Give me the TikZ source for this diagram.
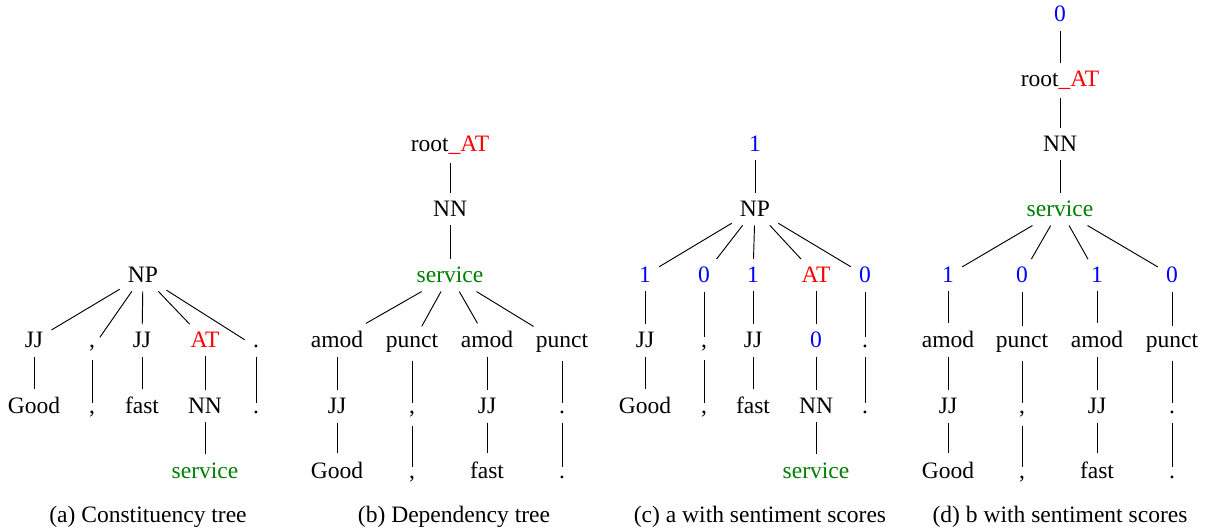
\documentclass[tikz,border=0pt]{standalone}
\usepackage{fontspec}
\setmainfont{Liberation Serif}
\definecolor{svcgreen}{rgb}{0,0.5,0}

\begin{document}
\begin{tikzpicture}[x=0.425pt,y=-0.425pt,
		every node/.style={anchor=base},
		score/.style={text=blue},
		aspect/.style={text=red},
		target/.style={text=svcgreen}]
	\useasboundingbox (0,0) rectangle (1210,528);

	% (a) constituency tree
	\node (anp) at (143,283) {NP};
	\node (ajja) at (34,348) {JJ};
	\node (acma) at (92,348) {,};
	\node (ajjb) at (142,348) {JJ};
	\node[aspect] (aat) at (205,348) {AT};
	\node (adta) at (256,348) {.};
	\node (agood) at (34,414) {Good};
	\node (acmb) at (92,414) {,};
	\node (afast) at (142,414) {fast};
	\node (ann) at (205,414) {NN};
	\node (adtb) at (256,414) {.};
	\node[target] (asvc) at (205,478) {service};
	\draw (anp) -- (ajja);
	\draw (anp) -- (acma);
	\draw (anp) -- (ajjb);
	\draw (anp) -- (aat);
	\draw (anp) -- (adta);
	\draw (ajja) -- (agood);
	\draw (acma) -- (acmb);
	\draw (ajjb) -- (afast);
	\draw (aat) -- (ann) -- (asvc);
	\draw (adta) -- (adtb);
	\node (capa) at (148,522) {(a) Constituency tree};

	% (b) dependency tree
	\node (broot) at (450,152) {root\textcolor{red}{\_AT}};
	\node (bnn) at (450,217) {NN};
	\node[target] (bsvc) at (450,283) {service};
	\node (bamoda) at (337,348) {amod};
	\node (bpnca) at (412,348) {punct};
	\node (bamodb) at (487,348) {amod};
	\node (bpncb) at (562,348) {punct};
	\node (bjja) at (337,414) {JJ};
	\node (bcma) at (412,414) {,};
	\node (bjjb) at (487,414) {JJ};
	\node (bdta) at (562,414) {.};
	\node (bgood) at (337,478) {Good};
	\node (bcmb) at (412,478) {,};
	\node (bfast) at (487,478) {fast};
	\node (bdtb) at (562,478) {.};
	\draw (broot) -- (bnn) -- (bsvc);
	\draw (bsvc) -- (bamoda);
	\draw (bsvc) -- (bpnca);
	\draw (bsvc) -- (bamodb);
	\draw (bsvc) -- (bpncb);
	\draw (bamoda) -- (bjja) -- (bgood);
	\draw (bpnca) -- (bcma) -- (bcmb);
	\draw (bamodb) -- (bjjb) -- (bfast);
	\draw (bpncb) -- (bdta) -- (bdtb);
	\node (capb) at (454,522) {(b) Dependency tree};

	% (c) constituency tree with scores
	\node[score] (cs) at (755,152) {1};
	\node (cnp) at (755,217) {NP};
	\node[score] (csa) at (645,283) {1};
	\node[score] (csb) at (704,283) {0};
	\node[score] (csc) at (753,283) {1};
	\node[aspect] (cat) at (816,283) {AT};
	\node[score] (csd) at (865,283) {0};
	\node (cjja) at (645,348) {JJ};
	\node (ccma) at (704,348) {,};
	\node (cjjb) at (753,348) {JJ};
	\node[score] (cse) at (816,348) {0};
	\node (cdta) at (865,348) {.};
	\node (cgood) at (645,414) {Good};
	\node (ccmb) at (704,414) {,};
	\node (cfast) at (753,414) {fast};
	\node (cnn) at (816,414) {NN};
	\node (cdtb) at (865,414) {.};
	\node[target] (csvc) at (816,478) {service};
	\draw (cs) -- (cnp);
	\draw (cnp) -- (csa);
	\draw (cnp) -- (csb);
	\draw (cnp) -- (csc);
	\draw (cnp) -- (cat);
	\draw (cnp) -- (csd);
	\draw (csa) -- (cjja) -- (cgood);
	\draw (csb) -- (ccma) -- (ccmb);
	\draw (csc) -- (cjjb) -- (cfast);
	\draw (cat) -- (cse) -- (cnn) -- (csvc);
	\draw (csd) -- (cdta) -- (cdtb);
	\node (capc) at (760,522) {(c) a with sentiment scores};

	% (d) dependency tree with scores
	\node[score] (ds) at (1060,22) {0};
	\node (droot) at (1060,87) {root\textcolor{red}{\_AT}};
	\node (dnn) at (1060,152) {NN};
	\node[target] (dsvc) at (1060,217) {service};
	\node[score] (dsa) at (948,283) {1};
	\node[score] (dsb) at (1022,283) {0};
	\node[score] (dsc) at (1097,283) {1};
	\node[score] (dsd) at (1172,283) {0};
	\node (damoda) at (948,348) {amod};
	\node (dpnca) at (1022,348) {punct};
	\node (damodb) at (1097,348) {amod};
	\node (dpncb) at (1172,348) {punct};
	\node (djja) at (948,414) {JJ};
	\node (dcma) at (1022,414) {,};
	\node (djjb) at (1097,414) {JJ};
	\node (ddta) at (1172,414) {.};
	\node (dgood) at (948,478) {Good};
	\node (dcmb) at (1022,478) {,};
	\node (dfast) at (1097,478) {fast};
	\node (ddtb) at (1172,478) {.};
	\draw (ds) -- (droot) -- (dnn) -- (dsvc);
	\draw (dsvc) -- (dsa);
	\draw (dsvc) -- (dsb);
	\draw (dsvc) -- (dsc);
	\draw (dsvc) -- (dsd);
	\draw (dsa) -- (damoda) -- (djja) -- (dgood);
	\draw (dsb) -- (dpnca) -- (dcma) -- (dcmb);
	\draw (dsc) -- (damodb) -- (djjb) -- (dfast);
	\draw (dsd) -- (dpncb) -- (ddta) -- (ddtb);
	\node (capd) at (1060,522) {(d) b with sentiment scores};
\end{tikzpicture}
\end{document}
